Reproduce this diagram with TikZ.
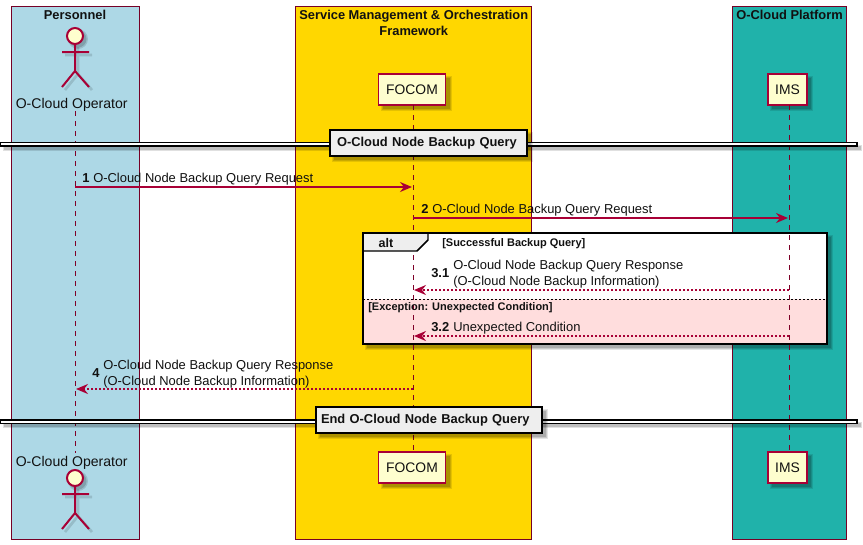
\documentclass[tikz,border=0pt]{standalone}
\usepackage{fontspec}
\setmainfont{Liberation Sans}
\usetikzlibrary{arrows.meta}
\definecolor{pu}{HTML}{A80036}
\definecolor{cream}{HTML}{FEFECE}
\definecolor{pblue}{HTML}{ADD8E6}
\definecolor{pgold}{HTML}{FFD700}
\definecolor{pteal}{HTML}{20B2AA}
\definecolor{ppink}{HTML}{FFDDDD}
\definecolor{dbox}{HTML}{EEEEEE}
\definecolor{txt}{HTML}{111111}
\newcommand{\msgfont}{\fontsize{9.7}{11}\selectfont}
\newcommand{\headfont}{\fontsize{9.65}{11}\selectfont\bfseries}
\newcommand{\smallb}{\fontsize{8.25}{9}\selectfont\bfseries}
\tikzset{
  x=0.75pt,y=-0.75pt,
  pillar/.style={draw=pu!70!black,line width=0.7pt},
  headlabel/.style={font=\headfont,text=txt,inner sep=0pt,align=center},
  msg/.style={font=\msgfont,text=txt,inner sep=0pt,anchor=base west},
  num/.style={font=\msgfont\bfseries,text=txt,inner sep=0pt,anchor=base west},
  actorname/.style={font=\fontsize{10.55}{12}\selectfont,text=txt,inner sep=0pt},
  part/.style={draw=pu,line width=1.1pt,fill=cream,font=\fontsize{10.4}{12}\selectfont,text=txt,inner sep=0pt,minimum height=23.25pt},
  life/.style={draw=pu!75!black,line width=0.6pt,dash pattern=on 3.75pt off 3.75pt},
  call/.style={draw=pu,line width=1.4pt,-{Stealth[length=9pt,width=7.5pt,inset=3pt]}},
  reply/.style={draw=pu,line width=1.4pt,dash pattern=on 1.5pt off 1.5pt,-{Stealth[length=9pt,width=7.5pt,inset=3pt]}},
  divbox/.style={draw=black,line width=1.2pt,fill=dbox,font=\fontsize{9.67}{11}\selectfont\bfseries,text=txt,inner ysep=0pt,minimum height=19.5pt,align=left},
  actorline/.style={draw=pu,line width=1.5pt},
}
\newcommand{\softshadow}[4]{%
  \fill[black,opacity=0.1] (#1+2,#2+2) rectangle (#3+6,#4+6);
  \fill[black,opacity=0.12] (#1+3,#2+3) rectangle (#3+5,#4+5);
  \fill[black,opacity=0.14] (#1+4,#2+4) rectangle (#3+4,#4+4);
}
\newcommand{\actorfig}[2]{% x, head y
  \fill[black,opacity=0.12] (#1+3,#2+3) circle (10);
  \fill[black,opacity=0.15] (#1+3,#2+3) circle (8.5);
  \draw[black,opacity=0.13,line width=2pt] (#1+3,#2+11) -- (#1+3,#2+38) (#1-10,#2+19) -- (#1+17,#2+19) (#1-10,#2+54) -- (#1+3,#2+38) -- (#1+17,#2+54);
  \draw[actorline,fill=cream] (#1,#2) circle (8);
  \draw[actorline] (#1,#2+8) -- (#1,#2+35) (#1-13,#2+16) -- (#1+14,#2+16) (#1-13,#2+51) -- (#1,#2+35) -- (#1+14,#2+51);
}
\begin{document}
\begin{tikzpicture}
\useasboundingbox (0,0) rectangle (863,544);
\fill[white] (0,0) rectangle (863,544);
% pillars
\draw[pillar,fill=pblue] (11.5,6.5) rectangle (139,539);
\draw[pillar,fill=pgold] (295.5,6.5) rectangle (531.5,539);
\draw[pillar,fill=pteal] (732.5,6.5) rectangle (846,539);
\node[headlabel] (tPers) at (75,14.5) {Personnel};
\node[headlabel] (tSmo) at (413.8,23) {Service Management \& Orchestration\\[1.1pt]Framework};
\node[headlabel] (tPlat) at (789.5,15) {O-Cloud Platform};
% alt frame
\softshadow{363}{233}{827}{344}
\fill[white] (363,233) rectangle (827,299);
\fill[ppink] (363,299) rectangle (827,344);
% actors
\actorfig{75}{36}
\actorfig{75}{478}
\node[actorname] (opTop) at (71.7,104.5) {O-Cloud Operator};
\node[actorname] (opBot) at (71.7,462.5) {O-Cloud Operator};
% participant shadows
\softshadow{378.5}{74}{445.5}{105}
\softshadow{378.5}{452}{445.5}{483}
\softshadow{768}{74}{807}{105}
\softshadow{768}{452}{807}{483}
% participants
\node[part,minimum width=50.25pt] (focomTop) at (412,89.5) {\raisebox{-0.9pt}{FOCOM}};
\node[part,minimum width=50.25pt] (focomBot) at (412,467.5) {\raisebox{-0.9pt}{FOCOM}};
\node[part,minimum width=29.25pt] (imsTop) at (787.5,89.5) {\raisebox{-0.9pt}{IMS}};
\node[part,minimum width=29.25pt] (imsBot) at (787.5,467.5) {\raisebox{-0.9pt}{IMS}};
% lifeline anchors
\coordinate (opA) at (75,111);
\coordinate (opB) at (75,453);
\coordinate (foA) at (413,105);
\coordinate (foB) at (413,452);
\coordinate (imA) at (789,105);
\coordinate (imB) at (789,452);
\draw[life] (opA) -- (opB);
\draw[life] (foA) -- (foB);
\draw[life] (imA) -- (imB);
% alt outline
\draw[black,line width=1.1pt,fill=dbox] (363,233) -- (428,233) -- (428,240) -- (417,251) -- (363,251) -- cycle;
\draw[black,line width=1.6pt] (363,233) rectangle (827,344);
\draw[black,line width=0.6pt,dash pattern=on 1.5pt off 1.5pt] (363,299) -- (827,299);
\node[font=\fontsize{9.4}{11}\selectfont\bfseries,text=txt,inner sep=0pt] (altL) at (386,243) {alt};
\node[font=\smallb,text=txt,inner sep=0pt,anchor=base west] (g1) at (442,246) {[Successful Backup Query]};
\node[font=\smallb,text=txt,inner sep=0pt,anchor=base west] (g2) at (368,310) {[Exception: Unexpected Condition]};
% message anchors
\coordinate (m1a) at (75,187);\coordinate (m1b) at (412,187);
\coordinate (m2a) at (413,218);\coordinate (m2b) at (788,218);
\coordinate (m3a) at (789,290);\coordinate (m3b) at (414,290);
\coordinate (m4a) at (789,336);\coordinate (m4b) at (414,336);
\coordinate (m5a) at (413,389);\coordinate (m5b) at (76,389);
\draw[call] (m1a) -- (m1b);
\draw[call] (m2a) -- (m2b);
\draw[reply] (m3a) -- (m3b);
\draw[reply] (m4a) -- (m4b);
\draw[reply] (m5a) -- (m5b);
\node[num] (n1) at (82,182.5) {1};
\node[msg] (t1) at (93,182.5) {O-Cloud Node Backup Query Request};
\node[num] (n2) at (421,213.5) {2};
\node[msg] (t2) at (432,213.5) {O-Cloud Node Backup Query Request};
\node[num] (n3) at (431,277) {3.1};
\node[msg] (t3) at (453,269.5) {O-Cloud Node Backup Query Response};
\node[msg] (t3b) at (453,285.5) {(O-Cloud Node Backup Information)};
\node[num] (n4) at (431,331) {3.2};
\node[msg] (t4) at (453,331) {Unexpected Condition};
\node[num] (n5) at (92,377) {4};
\node[msg] (t5) at (103,369.5) {O-Cloud Node Backup Query Response};
\node[msg] (t5b) at (103,385.5) {(O-Cloud Node Backup Information)};
% dividers
\fill[black,opacity=0.12] (3,145) rectangle (862,151);
\fill[black,opacity=0.15] (4,146) rectangle (861,150);
\draw[black,line width=0.8pt,fill=white] (0,142.5) rectangle (857,146);
\fill[black,opacity=0.12] (3,422) rectangle (862,428);
\fill[black,opacity=0.15] (4,423) rectangle (861,427);
\draw[black,line width=0.8pt,fill=white] (0,420) rectangle (857,423.5);
\softshadow{330}{130}{527}{156}
\softshadow{316}{407}{542}{433}
\node[divbox,inner xsep=5.25pt,text width=137.25pt] (d1) at (428.5,143) {\raisebox{-1pt}{O-Cloud Node Backup Query}};
\node[divbox,inner xsep=3.75pt,text width=162pt] (d2) at (429,420) {\raisebox{-1pt}{End O-Cloud Node Backup Query}};
\end{tikzpicture}
\end{document}
